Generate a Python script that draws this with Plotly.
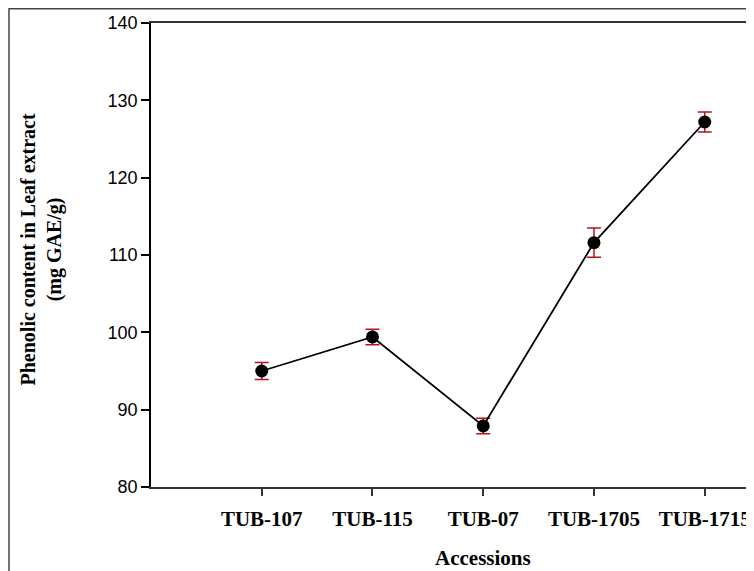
import plotly.graph_objects as go

accessions = ["TUB-107", "TUB-115", "TUB-07", "TUB-1705", "TUB-1715"]
phenolic = [95.0, 99.4, 87.9, 111.6, 127.2]
sem = [1.1, 1.0, 1.0, 1.9, 1.3]
y_ticks = [80, 90, 100, 110, 120, 130, 140]

# the page body has an 8px margin, so the figure is 8px smaller than the window
W, H = 746, 563
L, R, T, B = 143, 0, 15, 84
pw, ph = W - L - R, H - T - B

fig = go.Figure()
fig.add_trace(go.Scatter(
    x=accessions, y=phenolic,
    mode="lines+markers",
    line=dict(color="black", width=1.8),
    marker=dict(color="black", size=13),
    error_y=dict(type="data", array=sem, visible=True,
                 color="#b3141a", thickness=1.5, width=7),
    showlegend=False,
))

serif = "Liberation Serif, Times New Roman, serif"

fig.update_layout(
    width=W, height=H,
    margin=dict(l=L, r=R, t=T, b=B, autoexpand=False),
    paper_bgcolor="white", plot_bgcolor="white",
    xaxis=dict(
        type="category",
        range=[-1.0, 4.445],
        showgrid=False, zeroline=False,
        showline=True, linecolor="#333", linewidth=1.5, mirror=True,
        ticks="outside", ticklen=7, tickwidth=1.5, tickcolor="#333",
        tickfont=dict(family=serif, size=21, color="black", weight="bold"),
        ticklabelstandoff=5,
    ),
    yaxis=dict(
        range=[80, 140],
        tickvals=y_ticks,
        showgrid=False, zeroline=False,
        showline=True, linecolor="black", linewidth=1.5, mirror=False,
        ticks="outside", ticklen=8, tickwidth=1.5, tickcolor="black",
        tickfont=dict(family="Liberation Sans, Arial, sans-serif", size=18, color="black"),
    ),
    font=dict(color="black"),
)

# y-axis title
fig.add_annotation(
    text="<b>Phenolic content in Leaf extract</b><br><b>(mg GAE/g)</b>",
    xref="paper", yref="paper",
    x=(32.5 - L) / pw, y=(H - B - 242) / ph,
    xanchor="center", yanchor="middle",
    textangle=-90, showarrow=False,
    font=dict(family=serif, size=20, color="black"),
)
# x-axis title
fig.add_annotation(
    text="<b>Accessions</b>",
    xref="paper", yref="paper",
    x=(475 - L) / pw, y=(H - B - 550) / ph,
    xanchor="center", yanchor="middle",
    showarrow=False,
    font=dict(family=serif, size=21, color="black"),
)
# outer border of the figure panel
fig.add_shape(
    type="rect", xref="paper", yref="paper",
    x0=(1 - L) / pw, x1=1.2, y0=-0.4, y1=1 + (T - 0.75) / ph,
    line=dict(color="#444", width=1.5), fillcolor="rgba(0,0,0,0)",
    layer="below",
)

fig.write_html("out.html")
